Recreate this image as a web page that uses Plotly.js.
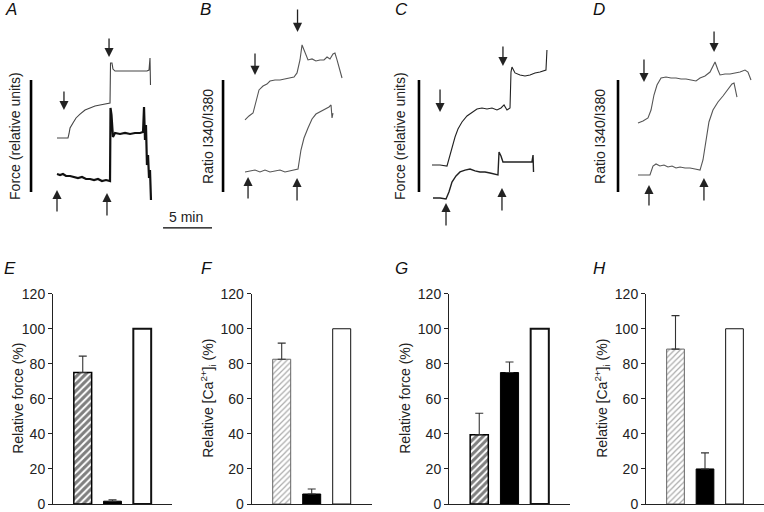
<!DOCTYPE html>
<html><head><meta charset="utf-8">
<script src="https://cdn.plot.ly/plotly-3.0.1.min.js"></script>
<style>html,body{margin:0;padding:0;background:#fff}#chart{width:764px;height:512px}</style>
</head><body><div id="chart"></div>
<script>
// ---------- Top row recordings: time (min), signal (relative units; vertical scale bar = 1) ----------
const aUpT = [0,1.12,1.22,1.33,1.63,1.94,2.35,2.86,3.37,3.88,4.39,4.90,5.41,5.46,5.61,5.71,5.92,7.45,9.18,9.39,9.49,9.54];
const aUpV = [0.482,0.482,0.518,0.571,0.616,0.661,0.696,0.732,0.750,0.768,0.777,0.786,0.795,1.152,1.152,1.098,1.080,1.080,1.080,1.089,1.196,0.955];
const aLoT = [0,0.31,0.61,0.92,1.33,1.73,2.14,2.55,2.96,3.37,3.78,4.18,4.59,5.00,5.41,5.46,5.56,5.71,5.92,6.43,6.94,7.45,7.96,8.47,8.78,8.88,8.98,9.08,9.18,9.29,9.39,9.49,9.59];
const aLoV = [0.161,0.152,0.161,0.143,0.143,0.134,0.125,0.134,0.116,0.116,0.107,0.116,0.098,0.107,0.098,0.750,0.688,0.491,0.527,0.518,0.527,0.518,0.527,0.527,0.536,0.759,0.464,0.598,0.241,0.330,0.125,0.196,-0.071];

const bUpT = [0,0.41,0.82,1.12,1.43,1.84,2.24,2.55,3.06,3.57,4.08,4.59,5.00,5.31,5.61,5.82,6.12,6.43,6.84,7.24,7.65,8.06,8.37,8.67,8.98,9.18,9.39,9.59,9.90];
const bUpV = [0.643,0.679,0.705,0.821,0.911,0.946,0.964,0.991,1.000,1.000,1.009,1.018,1.027,1.063,1.179,1.313,1.241,1.179,1.188,1.170,1.179,1.179,1.205,1.188,1.232,1.241,1.179,1.107,1.018];
const bLoT = [0,0.51,1.02,1.53,2.04,2.55,3.06,3.57,4.08,4.59,5.10,5.41,5.71,6.02,6.43,6.84,7.24,7.65,8.16,8.57,8.78,8.88,8.98];
const bLoV = [0.179,0.188,0.196,0.179,0.196,0.179,0.188,0.196,0.179,0.188,0.196,0.205,0.375,0.482,0.571,0.652,0.696,0.714,0.741,0.759,0.777,0.661,0.705];

const cUpT = [0,0.82,1.53,1.84,2.04,2.35,2.65,3.06,3.57,4.08,4.59,5.10,5.61,6.12,6.63,7.04,7.35,7.65,7.96,8.06,8.16,8.47,8.98,9.49,10.0,10.51,11.02,11.63,11.73];
const cUpV = [0.241,0.241,0.232,0.330,0.402,0.491,0.563,0.625,0.679,0.714,0.741,0.750,0.741,0.750,0.732,0.750,0.777,0.732,0.750,1.071,1.116,1.063,1.045,1.036,1.045,1.063,1.071,1.089,1.268];
const cLoT = [0.10,0.82,1.43,1.73,2.04,2.45,2.86,3.37,3.88,4.39,4.90,5.41,5.92,6.43,6.73,6.84,7.04,7.24,7.96,8.98,10.2,10.31,10.36];
const cLoV = [-0.054,-0.054,-0.063,0.000,0.089,0.143,0.179,0.196,0.205,0.188,0.179,0.179,0.170,0.161,0.152,0.357,0.321,0.268,0.268,0.268,0.268,0.330,0.179];

const dUpT = [0,0.51,1.02,1.33,1.63,1.94,2.35,2.86,3.37,3.88,4.39,4.90,5.41,5.92,6.33,6.84,7.35,7.65,7.86,8.16,8.37,8.88,9.39,9.90,10.41,10.92,11.22,11.53];
const dUpV = [0.616,0.634,0.661,0.732,0.866,0.955,1.018,1.027,1.018,1.018,1.009,1.009,1.000,0.991,1.018,1.036,1.071,1.125,1.161,1.089,1.045,1.054,1.054,1.063,1.071,1.089,1.071,1.000];
const dLoT = [0,0.71,1.22,1.53,1.84,2.24,2.65,3.06,3.47,3.88,4.29,4.80,5.31,5.82,6.33,6.63,6.94,7.24,7.65,8.16,8.67,9.18,9.59,9.80,10.0,10.10];
const dLoV = [0.152,0.152,0.152,0.232,0.250,0.232,0.241,0.223,0.232,0.214,0.223,0.214,0.214,0.205,0.196,0.286,0.464,0.625,0.732,0.804,0.857,0.911,0.964,0.973,0.893,0.848];

// Arrows: time, tail value, tip value
const aArrT = [0.71,5.31,0,5.10];    const aArrTail = [0.911,1.384,-0.188,-0.223]; const aArrTip = [0.732,1.205,0.018,-0.009];
const bArrT = [1.02,5.36,0.31,5.31]; const bArrTail = [1.25,1.643,-0.071,-0.089];  const bArrTip = [1.045,1.429,0.134,0.125];
const cArrT = [0.82,7.24,1.43,7.14]; const cArrTail = [0.929,1.313,-0.313,-0.179]; const cArrTip = [0.714,1.125,-0.098,0.036];
const dArrT = [0.61,7.76,1.12,6.73]; const dArrTail = [1.196,1.446,-0.134,-0.089]; const dArrTip = [0.982,1.25,0.063,0.125];

const topLabels = ['Force (relative units)','Ratio I340/I380','Force (relative units)','Ratio I340/I380'];

// ---------- Bottom row bars ----------
const barCats = [0,1,2];
const eMean = [75, 1.6, 100];   const eErr = [9.4, 0.8];
const fMean = [82.6, 5.7, 100]; const fErr = [9.2, 2.9];
const gMean = [39.5, 75, 100];  const gErr = [12.3, 6];
const hMean = [88.4, 20, 100];  const hErr = [19.1, 9.2];
const yTicks = [0,20,40,60,80,100,120];
const forceTitle = 'Relative force (%)';
const caTitle = 'Relative [Ca<sup>2+</sup>]<sub>i</sub> (%)';

// ---------- Layout geometry ----------
const W = 764, H = 512;
const pxPerMin = 9.8;
const origins = [57, 245, 432, 638];
const topBottomPx = 240, basePx = 192, pxPerUnit = 112;
const font = 'Liberation Sans, Arial, Helvetica, sans-serif';

const data = [];
const layout = {
  width: W, height: H, margin: {l:0,r:0,t:0,b:0}, autosize:false,
  paper_bgcolor:'#fff', plot_bgcolor:'rgba(0,0,0,0)', showlegend:false, barmode:'overlay',
  font:{family:font, size:14, color:'#222'},
  annotations: [], shapes: []
};

const tops = [
  {up:[aUpT,aUpV], lo:[aLoT,aLoV], arr:[aArrT,aArrTail,aArrTip], upStyle:{color:'#444',width:1.1}, loStyle:{color:'#111',width:2.2}, bar:-2.65, lab:-4.29},
  {up:[bUpT,bUpV], lo:[bLoT,bLoV], arr:[bArrT,bArrTail,bArrTip], upStyle:{color:'#555',width:1.1}, loStyle:{color:'#555',width:1.1}, bar:-2.24, lab:-3.78},
  {up:[cUpT,cUpV], lo:[cLoT,cLoV], arr:[cArrT,cArrTail,cArrTip], upStyle:{color:'#222',width:1.1}, loStyle:{color:'#222',width:1.4}, bar:-1.33, lab:-3.27},
  {up:[dUpT,dUpV], lo:[dLoT,dLoV], arr:[dArrT,dArrTail,dArrTip], upStyle:{color:'#555',width:1.1}, loStyle:{color:'#555',width:1.1}, bar:-2.04, lab:-3.88}
];

tops.forEach((p, i) => {
  const n = i + 1, sfx = n === 1 ? '' : String(n);
  const xr = 'x' + sfx, yr = 'y' + sfx;
  layout['xaxis' + sfx] = {domain:[0,1], range:[-origins[i]/pxPerMin, (W-origins[i])/pxPerMin], visible:false, anchor:yr, fixedrange:true};
  layout['yaxis' + sfx] = {domain:[(H-topBottomPx)/H, 1], range:[-(topBottomPx-basePx)/pxPerUnit, basePx/pxPerUnit], visible:false, anchor:xr, fixedrange:true};
  data.push({type:'scatter', mode:'lines', x:p.up[0], y:p.up[1], xaxis:xr, yaxis:yr, line:p.upStyle, hoverinfo:'skip'});
  data.push({type:'scatter', mode:'lines', x:p.lo[0], y:p.lo[1], xaxis:xr, yaxis:yr, line:p.loStyle, hoverinfo:'skip'});
  p.arr[0].forEach((t, k) => {
    layout.annotations.push({xref:xr, yref:yr, axref:xr, ayref:yr, x:t, y:p.arr[2][k], ax:t, ay:p.arr[1][k], text:'', showarrow:true, arrowhead:2, arrowsize:1.4, arrowwidth:1.3, arrowcolor:'#222', standoff:0, startstandoff:0});
  });
  layout.shapes.push({type:'line', xref:xr, yref:yr, x0:p.bar, x1:p.bar, y0:0, y1:1, line:{color:'#000', width:2.6}});
  layout.annotations.push({xref:xr, yref:yr, x:p.lab, y:0.5, text:topLabels[i], textangle:-90, showarrow:false, font:{size:14, color:'#222'}, xanchor:'center', yanchor:'middle'});
});
// 5 min time bar (panel A time axis)
layout.shapes.push({type:'line', xref:'x', yref:'y', x0:10.82, x1:10.82+5, y0:-0.321, y1:-0.321, line:{color:'#000', width:1.3}});
layout.annotations.push({xref:'x', yref:'y', x:13.2, y:-0.221, text:'5 min', showarrow:false, font:{size:14, color:'#222'}, xanchor:'center', yanchor:'middle'});

// Bottom bar panels
const botDom = [[53,172],[251.7,371.7],[449,570],[646,764]];
const bars = [
  {m:eMean, e:eErr, title:forceTitle, tx:18, heavy:true},
  {m:fMean, e:fErr, title:caTitle, tx:208, heavy:false},
  {m:gMean, e:gErr, title:forceTitle, tx:405, heavy:true},
  {m:hMean, e:hErr, title:caTitle, tx:602, heavy:false}
];
bars.forEach((b, i) => {
  const n = i + 5, xr = 'x' + n, yr = 'y' + n;
  layout['xaxis' + n] = {domain:[botDom[i][0]/W, botDom[i][1]/W], range:[-1,3], anchor:yr, showline:true, linecolor:'#222', linewidth:1, showticklabels:false, ticks:'', showgrid:false, zeroline:false, fixedrange:true};
  layout['yaxis' + n] = {domain:[8/H, (H-293.7)/H], range:[0,120], anchor:xr, showline:true, linecolor:'#222', linewidth:1, ticks:'outside', ticklen:4, tickwidth:1, tickcolor:'#222', tickvals:yTicks, showgrid:false, zeroline:false, tickfont:{size:14, color:'#222'}, fixedrange:true, automargin:false, ticklabeloverflow:'allow'};
  const common = {type:'bar', xaxis:xr, yaxis:yr, width:0.6, hoverinfo:'skip', cliponaxis:false};
  const errStyle = {type:'data', symmetric:false, width:4, thickness:1.1, color:'#333'};
  // hatched bar
  data.push(Object.assign({}, common, {x:[barCats[0]], y:[b.m[0]],
    marker:{color:'#fff', line:{color: b.heavy ? '#000' : '#666', width: b.heavy ? 1.5 : 1},
      pattern:{shape:'/', fgcolor: b.heavy ? '#000' : '#555', bgcolor:'#fff', size: b.heavy ? 5 : 4, solidity: b.heavy ? 0.6 : 0.3, fillmode:'overlay'}},
    error_y:Object.assign({}, errStyle, {array:[b.e[0]], arrayminus:[0]})}));
  // black bar
  data.push(Object.assign({}, common, {x:[barCats[1]], y:[b.m[1]],
    marker:{color:'#000', line:{color:'#000', width:1}},
    error_y:Object.assign({}, errStyle, {array:[b.e[1]], arrayminus:[0]})}));
  // white (control) bar
  data.push(Object.assign({}, common, {x:[barCats[2]], y:[b.m[2]],
    marker:{color:'#fff', line:{color:'#111', width: b.heavy ? 2 : 1}}}));
  layout.annotations.push({xref:'paper', yref:yr, x:b.tx/W, y:60, text:b.title, textangle:-90, showarrow:false, font:{size:14, color:'#222'}, xanchor:'center', yanchor:'middle'});
});

// Panel letters
const letters = ['A','B','C','D','E','F','G','H'];
const letterX = [3,198,393,591,2,199,393,591];
const letterY = [9,9,9,9,268,268,268,268];
letters.forEach((L, k) => {
  layout.annotations.push({xref:'paper', yref:'paper', x:letterX[k]/W, y:(H-letterY[k])/H, text:'<i>'+L+'</i>', showarrow:false, xanchor:'left', yanchor:'middle', font:{size:17, color:'#111'}});
});

Plotly.newPlot('chart', data, layout, {staticPlot:true, displayModeBar:false});
</script></body></html>
